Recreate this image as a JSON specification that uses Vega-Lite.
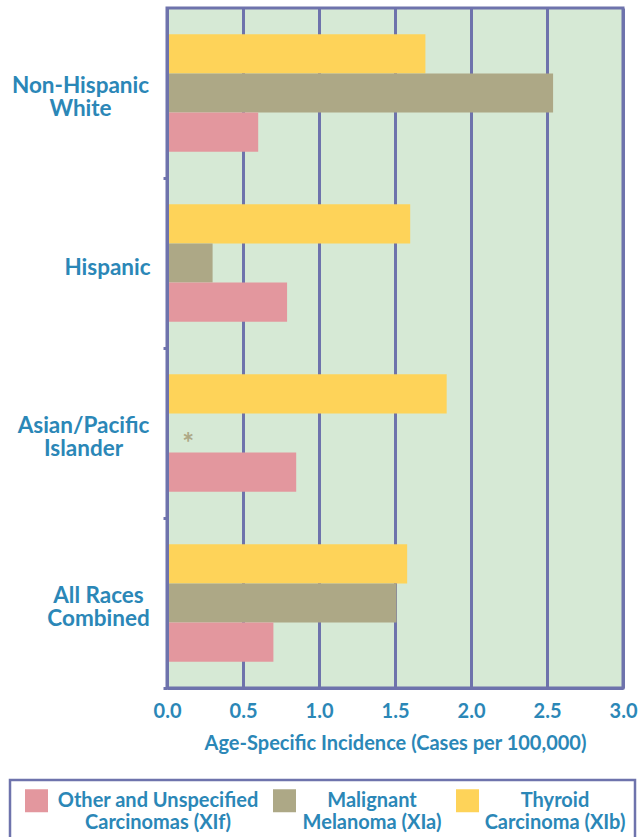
{
  "$schema": "https://vega.github.io/schema/vega-lite/v6.json",
  "width": 456,
  "height": 680,
  "autosize": "none",
  "padding": {"left": 167, "top": 8, "right": 15, "bottom": 149},
  "background": "white",
  "config": {
    "font": "Lato",
    "view": {"fill": "#D6E9D5", "stroke": "#6E73AC", "strokeWidth": 3}
  },
  "data": {
    "values": [
      {"race": "Non-Hispanic White", "type": "Thyroid Carcinoma (XIb)", "value": 1.70},
      {"race": "Non-Hispanic White", "type": "Malignant Melanoma (XIa)", "value": 2.54},
      {"race": "Non-Hispanic White", "type": "Other and Unspecified Carcinomas (XIf)", "value": 0.60},
      {"race": "Hispanic", "type": "Thyroid Carcinoma (XIb)", "value": 1.60},
      {"race": "Hispanic", "type": "Malignant Melanoma (XIa)", "value": 0.30},
      {"race": "Hispanic", "type": "Other and Unspecified Carcinomas (XIf)", "value": 0.79},
      {"race": "Asian/Pacific Islander", "type": "Thyroid Carcinoma (XIb)", "value": 1.84},
      {"race": "Asian/Pacific Islander", "type": "Malignant Melanoma (XIa)", "value": null, "note": "*"},
      {"race": "Asian/Pacific Islander", "type": "Other and Unspecified Carcinomas (XIf)", "value": 0.85},
      {"race": "All Races Combined", "type": "Thyroid Carcinoma (XIb)", "value": 1.58},
      {"race": "All Races Combined", "type": "Malignant Melanoma (XIa)", "value": 1.51},
      {"race": "All Races Combined", "type": "Other and Unspecified Carcinomas (XIf)", "value": 0.70}
    ]
  },
  "resolve": {"axis": {"y": "independent"}},
  "layer": [
    {
      "mark": {"type": "bar"},
      "encoding": {
        "y": {
          "field": "race",
          "type": "nominal",
          "sort": ["Non-Hispanic White", "Hispanic", "Asian/Pacific Islander", "All Races Combined"],
          "scale": {"paddingInner": 0.31, "paddingOuter": 0.155},
          "axis": {
            "title": null,
            "zindex": 1,
            "domainColor": "#6E73AC",
            "domainWidth": 3,
            "tickColor": "#6E73AC",
            "tickWidth": 3,
            "tickSize": 4,
            "tickOffset": 85,
            "labelOffset": {"condition": {"test": "datum.value == 'Hispanic'", "value": -81}, "value": -93},
            "labelPadding": {
              "condition": [
                {"test": "datum.value == 'Hispanic'", "value": 56},
                {"test": "datum.value == 'All Races Combined'", "value": 65},
                {"test": "datum.value == 'Asian/Pacific Islander'", "value": 80}
              ],
              "value": 83
            },
            "labelAlign": "center",
            "labelBaseline": "middle",
            "labelFont": "Lato",
            "labelFontSize": 22.5,
            "labelFontWeight": "bold",
            "labelColor": "#2B87B7",
            "labelLineHeight": 23,
            "labelLimit": 0,
            "labelExpr": "datum.value == 'Non-Hispanic White' ? ['Non-Hispanic', 'White'] : datum.value == 'Asian/Pacific Islander' ? ['Asian/Pacific', 'Islander'] : datum.value == 'All Races Combined' ? ['All Races', 'Combined'] : datum.value"
          }
        },
        "yOffset": {
          "field": "type",
          "type": "nominal",
          "scale": {
            "domain": ["Thyroid Carcinoma (XIb)", "Malignant Melanoma (XIa)", "Other and Unspecified Carcinomas (XIf)"],
            "paddingInner": 0,
            "paddingOuter": 0
          }
        },
        "x": {
          "field": "value",
          "type": "quantitative",
          "scale": {"domain": [0, 3], "nice": false},
          "axis": {
            "values": [0, 0.5, 1, 1.5, 2, 2.5, 3],
            "format": ".1f",
            "grid": true,
            "gridColor": "#6E73AC",
            "gridWidth": 3,
            "gridOpacity": 1,
            "domainColor": "#6E73AC",
            "domainWidth": 3,
            "ticks": false,
            "tickSize": 0,
            "labelPadding": 13,
            "labelFont": "Lato",
            "labelFontSize": 20,
            "labelFontWeight": "bold",
            "labelColor": "#2B87B7",
            "labelFlush": false,
            "title": "Age-Specific Incidence (Cases per 100,000)",
            "titleFont": "Lato",
            "titleFontSize": 20,
            "titleFontWeight": "bold",
            "titleColor": "#2B87B7",
            "titlePadding": 12
          }
        },
        "color": {
          "field": "type",
          "type": "nominal",
          "scale": {
            "domain": ["Other and Unspecified Carcinomas (XIf)", "Malignant Melanoma (XIa)", "Thyroid Carcinoma (XIb)"],
            "range": ["#E3979E", "#ADA886", "#FED359"]
          },
          "legend": {
            "orient": "none",
            "legendX": -157,
            "legendY": 772,
            "direction": "horizontal",
            "columns": 3,
            "title": null,
            "padding": 9,
            "strokeColor": "#6E73AC",
            "symbolType": "square",
            "symbolSize": 529,
            "symbolOffset": 6,
            "symbolStrokeWidth": 0,
            "symbolOpacity": 1,
            "columnPadding": 8,
            "labelOffset": 5,
            "labelFont": "Lato",
            "labelFontSize": 20,
            "labelFontWeight": "bold",
            "labelColor": "#2B87B7",
            "labelLimit": 0,
            "labelExpr": "datum.value == 'Other and Unspecified Carcinomas (XIf)' ? ['Other and Unspecified', 'Carcinomas (XIf)'] : datum.value == 'Malignant Melanoma (XIa)' ? ['Malignant', 'Melanoma (XIa)'] : ['Thyroid', 'Carcinoma (XIb)']",
            "encode": {
              "legend": {"update": {"strokeWidth": {"value": 2.5}}},
              "labels": {
                "update": {
                  "align": {"value": "center"},
                  "baseline": {"value": "middle"},
                  "lineHeight": {"value": 22},
                  "dx": {"signal": "datum.value == 'Other and Unspecified Carcinomas (XIf)' ? 105 : 71"}
                }
              }
            }
          }
        }
      }
    },
    {
      "transform": [{"filter": "datum.note != null"}],
      "mark": {"type": "text", "fontSize": 28, "fontWeight": "bold", "color": "#ADA886", "baseline": "middle", "align": "center", "dy": 12},
      "encoding": {
        "y": {
          "field": "race",
          "type": "nominal",
          "sort": ["Non-Hispanic White", "Hispanic", "Asian/Pacific Islander", "All Races Combined"],
          "axis": null
        },
        "yOffset": {"field": "type", "type": "nominal"},
        "x": {"datum": 0.14},
        "text": {"field": "note"}
      }
    }
  ]
}
